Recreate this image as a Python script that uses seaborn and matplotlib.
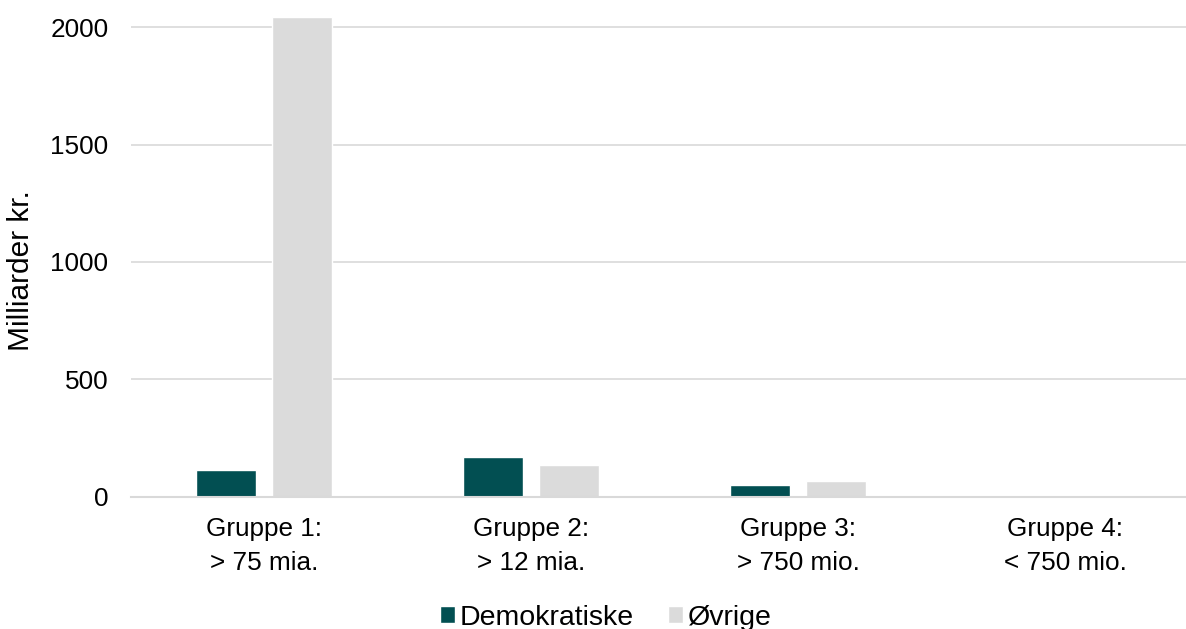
import pandas as pd
import numpy as np
import matplotlib
matplotlib.use("Agg")
import matplotlib.pyplot as plt
import seaborn as sns

# Data
grupper = ["Gruppe 1:\n> 75 mia.", "Gruppe 2:\n> 12 mia.", "Gruppe 3:\n> 750 mio.", "Gruppe 4:\n< 750 mio."]
demokratiske = [115, 169, 51, 0]
oevrige = [2043, 137, 69, 0]
serier = ["Demokratiske", "Øvrige"]
farver = ["#024f52", "#dbdbdb"]

df = pd.DataFrame({
    "gruppe": grupper * 2,
    "serie": [serier[0]] * 4 + [serier[1]] * 4,
    "vaerdi": demokratiske + oevrige,
})

sns.set_style("white")
plt.rcParams["font.family"] = ["Liberation Sans", "DejaVu Sans"]
plt.rcParams["text.color"] = "black"
plt.rcParams["axes.labelcolor"] = "black"
plt.rcParams["xtick.color"] = "black"
plt.rcParams["ytick.color"] = "black"

fig = plt.figure(figsize=(11.86, 6.29), dpi=100)
# plot area runs slightly past the right edge of the image (as in the original)
ax = fig.add_axes([130.5 / 1186, 0.2099, 1068 / 1186, 0.7845])

sns.barplot(data=df, x="gruppe", y="vaerdi", hue="serie", palette=farver,
            width=0.57, gap=0.21, ax=ax, saturation=1)

ax.set_ylim(0, 2100)
ax.set_xlim(-0.5, 3.5)
ax.set_yticks([0, 500, 1000, 1500, 2000])
ax.yaxis.grid(True, color="#d9d9d9", linewidth=1.2)
ax.set_axisbelow(True)
for s in ["top", "right", "left"]:
    ax.spines[s].set_visible(False)
ax.spines["bottom"].set_color("#d9d9d9")
ax.spines["bottom"].set_linewidth(1.5)
ax.tick_params(axis="both", length=0, labelsize=18.8)
ax.tick_params(axis="y", pad=16)
ax.tick_params(axis="x", pad=14.5)
for t in ax.get_xticklabels():
    t.set_linespacing(1.5)
ax.set_xlabel("")
ax.set_ylabel("Milliarder kr.", fontsize=21.5)
ax.yaxis.set_label_coords(-0.0894, 0.458)

handles, labels = ax.get_legend_handles_labels()
ax.get_legend().remove()
fig.legend(handles, labels, loc="center", bbox_to_anchor=(606 / 1186, 0.018),
           ncol=2, frameon=False, fontsize=20.5, handlelength=0.53, handleheight=0.53,
           handletextpad=0.18, columnspacing=1.2)

fig.savefig("out.png", dpi=100)
